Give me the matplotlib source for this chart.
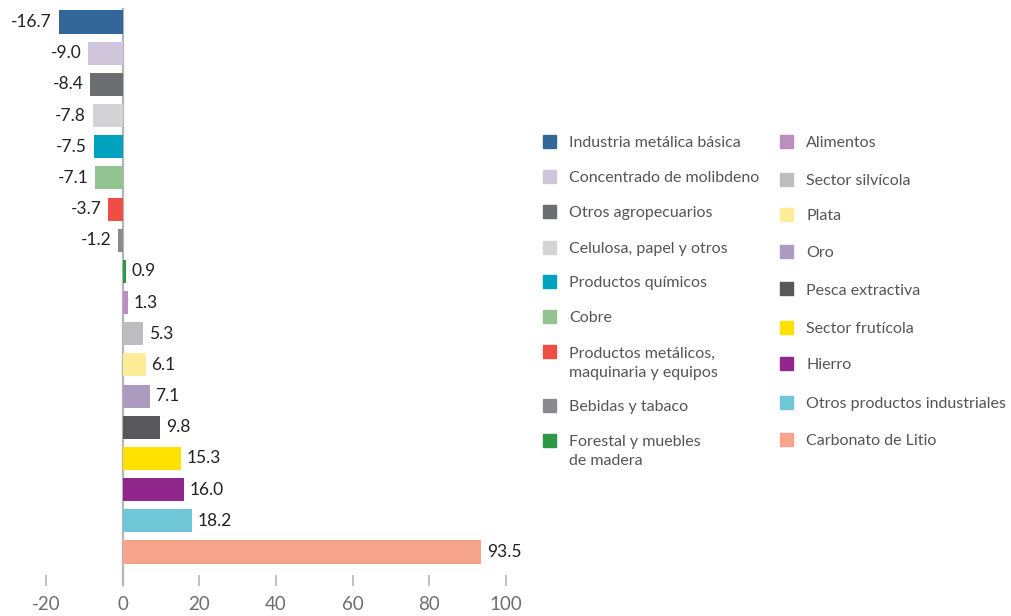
import numpy as np
import matplotlib.pyplot as plt
from matplotlib.patches import Rectangle

sectores = ["Industria metálica básica", "Concentrado de molibdeno", "Otros agropecuarios",
            "Celulosa, papel y otros", "Productos químicos", "Cobre",
            "Productos metálicos,\nmaquinaria y equipos", "Bebidas y tabaco",
            "Forestal y muebles\nde madera", "Alimentos", "Sector silvícola", "Plata", "Oro",
            "Pesca extractiva", "Sector frutícola", "Hierro", "Otros productos industriales",
            "Carbonato de Litio"]
valores = [-16.7, -9.0, -8.4, -7.8, -7.5, -7.1, -3.7, -1.2, 0.9, 1.3, 5.3, 6.1, 7.1,
           9.8, 15.3, 16.0, 18.2, 93.5]
colores = ["#346799", "#cfc6dc", "#6d6e71", "#d3d3d5", "#00a3bf", "#93c391", "#f04e45",
           "#8a8a8e", "#2e9743", "#bb8dc1", "#bdbdbf", "#ffec96", "#ad9abf", "#58585b",
           "#ffe200", "#91278d", "#6fc6d6", "#f7a48c"]

plt.rcParams['font.family'] = ['Lato', 'DejaVu Sans']
plt.rcParams['axes.unicode_minus'] = False

W, H = 1011, 616
fig = plt.figure(figsize=(W / 100, H / 100), dpi=100)
ax = fig.add_axes([46 / W, 1 - 586 / H, (506 - 46) / W, (586 - 8) / H])

y = np.arange(len(valores))
ax.barh(y, valores, height=0.74, color=colores)
ax.axvline(0, color="#b5b5b7", lw=1.6, zorder=0)

for yi, v in zip(y, valores):
    if v < 0:
        ax.annotate(f"{v:.1f}", (v, yi), xytext=(-5, 0), textcoords="offset points",
                    ha="right", va="center", fontsize=12.5, color="#222222")
    else:
        ax.annotate(f"{v:.1f}", (v, yi), xytext=(4, 0), textcoords="offset points",
                    ha="left", va="center", fontsize=12.5, color="#222222")

ax.set_xlim(-20, 100)
ax.set_ylim(18.09, -0.45)
ax.set_xticks([-20, 0, 20, 40, 60, 80, 100])
ax.set_yticks([])
for s in ax.spines.values():
    s.set_visible(False)
ax.tick_params(axis="x", direction="in", length=8, width=1.2, color="#b5b5b7",
               labelsize=13.5, labelcolor="#6d6e71", pad=7)

# leyenda manual en dos columnas
col1 = [141, 176, 211, 247, 281, 316, 352, 405, 440]
col2 = [141, 179, 214, 251, 289, 327, 363, 402, 439]
for i, (lab, c) in enumerate(zip(sectores, colores)):
    if i < 9:
        x0, yy = 543, col1[i]
    else:
        x0, yy = 780, col2[i - 9]
    fig.add_artist(Rectangle((x0 / W, 1 - (yy + 6.5) / H), 13 / W, 13 / H,
                             transform=fig.transFigure, color=c))
    fig.text((x0 + 26) / W, 1 - (yy - 5) / H, lab, ha="left", va="top",
             fontsize=11.5, color="#555555", linespacing=1.45)

fig.savefig("out.png", dpi=100)
